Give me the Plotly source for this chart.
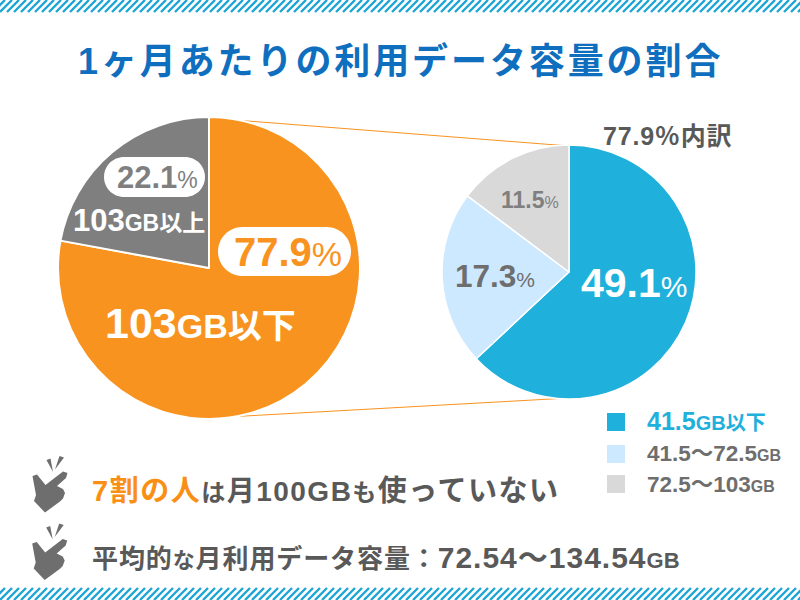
import plotly.graph_objects as go

W, H = 800, 600
main_labels = ["103GB以下", "103GB以上"]
main_values = [77.9, 22.1]
main_colors = ["#F9931F", "#7F7F7F"]
sub_labels = ["41.5GB以下", "41.5〜72.5GB", "72.5〜103GB"]
sub_values = [49.1, 17.3, 11.5]
sub_colors = ["#1FB0DC", "#CDE9FF", "#D9D9D9"]

FONT = "Liberation Sans, Noto Sans CJK JP, sans-serif"
BLUE, ORANGE, GRAY, DARK = "#0F6FBE", "#F9931F", "#7F7F7F", "#595959"

def fx(x): return x / W
def fy(y): return 1 - y / H
def P(x, y): return f"{fx(x):.5f} {fy(y):.5f}"

def poly(points, dx=0, dy=0):
    return "M" + " L".join(P(x + dx, y + dy) for x, y in points) + " Z"

def pill(x0, y0, x1, y1):
    r = (y1 - y0) / 2
    k = 0.5523 * r
    return (f"M{P(x0+r,y0)} L{P(x1-r,y0)} C{P(x1-r+k,y0)} {P(x1,y0+r-k)} {P(x1,y0+r)} "
            f"C{P(x1,y0+r+k)} {P(x1-r+k,y1)} {P(x1-r,y1)} L{P(x0+r,y1)} "
            f"C{P(x0+r-k,y1)} {P(x0,y0+r+k)} {P(x0,y0+r)} C{P(x0,y0+r-k)} {P(x0+r-k,y0)} {P(x0+r,y0)} Z")

def stripes(y0, y1):
    h = y1 - y0
    return " ".join(f"M{P(x, y1)} L{P(x + h, y0)}" for x in range(-14, 806, 7))

HAND = [(32.5,36),(37,34.5),(45.5,45),(63,31.5),(67.5,33),(66,38),(57,46),(63,49),(65,53),
        (63,58.5),(60,61.5),(45,72.5),(34,61),(36,55)]
SP1 = [(46.5,20),(50.5,18.5),(53,32)]
SP2 = [(59.5,16),(64,17.5),(55,29.5)]

shapes = []
def add_path(path, fill=None, line=None, width=0, layer="above"):
    shapes.append(dict(type="path", xref="paper", yref="paper", path=path, layer=layer,
                       fillcolor=fill or "rgba(0,0,0,0)",
                       line=dict(color=line or "rgba(0,0,0,0)", width=width)))

add_path(stripes(0, 12), line="#1FA5D5", width=2.4)
add_path(stripes(588, 600), line="#1FA5D5", width=2.4)
add_path(f"M{P(209,118)} L{P(569,146)}", line=ORANGE, width=1, layer="below")
add_path(f"M{P(209,418)} L{P(569,398)}", line=ORANGE, width=1, layer="below")
add_path(pill(218, 227, 351, 276), fill="white")
add_path(pill(104, 157, 205, 197), fill="white")
for (x0, y0), c in zip([(607, 413), (607, 445), (607, 475)], sub_colors):
    add_path(poly([(x0, y0), (x0 + 18, y0), (x0 + 18, y0 + 18), (x0, y0 + 18)]), fill=c)
for dy, dx in [(440, 0), (507.5, -0.3)]:
    for pts in (HAND, SP1, SP2):
        add_path(poly(pts, dx, dy), fill="#6E6E6E")

def s(text, size=None, color=None, ls=None):
    st = []
    if size: st.append(f"font-size:{size}px")
    if color: st.append(f"color:{color}")
    if ls is not None: st.append(f"letter-spacing:{ls}px")
    return f'<span style="{";".join(st)}">{text}</span>'

def b(t): return f"<b>{t}</b>"

annotations = []
def T(x, y, text, size, color, anchor="left"):
    annotations.append(dict(x=fx(x), y=fy(y), xref="paper", yref="paper", text=text,
                            showarrow=False, xanchor=anchor, yanchor="middle",
                            font=dict(family=FONT, size=size, color=color),
                            borderpad=0, borderwidth=0))

T(400, 62, b(s("1ヶ月あたりの利用データ容量の割合", ls=2.9)), 36, BLUE, "center")
T(667, 136, b(s("77.9％内訳", ls=0.8)), 25, DARK, "center")
T(288, 252, b(s("77.9", 40)) + s("%", 34), 40, ORANGE, "center")
T(157, 178, b("22.1") + s("%", 23), 31, GRAY, "center")
T(139, 220, b("103" + s("GB以上", 23)), 31, "white", "center")
T(200, 323, b("103" + s("GB以下", 34)), 43, "white", "center")
T(634, 283, b("49.1") + s("%", 30), 41, "white", "center")
T(495, 276, b("17.3") + s("%", 21), 31.5, "#6E6E6E", "center")
T(530, 200, b("11.5") + s("%", 16), 23, GRAY, "center")
T(647, 421, b("41.5" + s("GB以下", 20)), 25, "#1FB0DC")
T(647, 453, b("41.5〜72.5" + s("GB", 16)), 22.5, "#6E6E6E")
T(647, 484, b("72.5〜103" + s("GB", 16)), 22.5, "#6E6E6E")
T(92, 491, b(s("7割の人", 29, "#F98F14", 1.5) + s("は", 24, ls=1.5) + s("月100GB", 28, ls=1.5) + s("も", 24, ls=1.5) + s("使っていない", 29, ls=1.5)), 28, DARK)
T(92, 557, b(s("平均的", 26, ls=0.9) + s("な", 22, ls=0.9) + s("月利用データ容量：", 26, ls=0.9) + s("72.54〜134.54", 30, ls=1) + s("GB", 22)), 26, DARK)

def dom(cx, cy, r):
    return dict(x=[fx(cx - r), fx(cx + r)], y=[fy(cy + r), fy(cy - r)])

fig = go.Figure()
fig.add_trace(go.Pie(labels=main_labels, values=main_values, sort=False, direction="clockwise",
                     rotation=0, textinfo="none", hoverinfo="skip", showlegend=False,
                     marker=dict(colors=main_colors, line=dict(color="white", width=2)),
                     domain=dom(209, 268, 151)))
fig.add_trace(go.Pie(labels=sub_labels, values=sub_values, sort=False, direction="clockwise",
                     rotation=0, textinfo="none", hoverinfo="skip", showlegend=False,
                     marker=dict(colors=sub_colors, line=dict(color="white", width=1.5)),
                     domain=dom(569, 272, 127)))
fig.update_layout(width=W, height=H, margin=dict(l=0, r=0, t=0, b=0), paper_bgcolor="white",
                  plot_bgcolor="white", shapes=shapes, annotations=annotations, showlegend=False)
fig.write_html("out.html", config={"displayModeBar": False},
               post_script="document.body.style.margin='0';document.body.style.overflow='hidden';")
